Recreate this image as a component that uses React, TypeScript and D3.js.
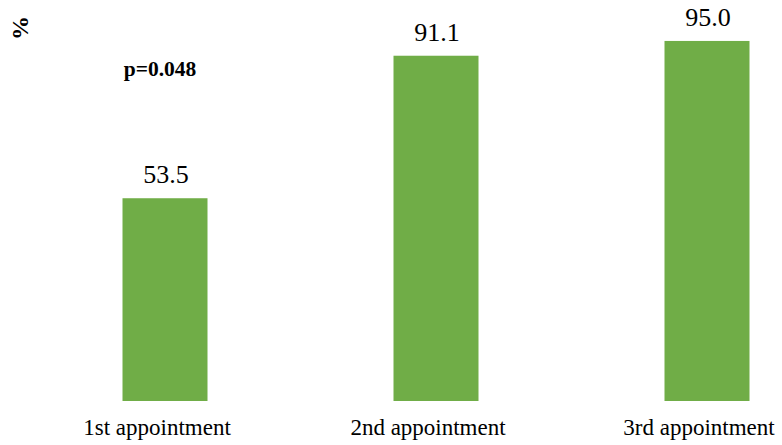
import React from "react";
import * as d3 from "d3";

const categories = ["1st appointment", "2nd appointment", "3rd appointment"];
const values = [53.5, 91.1, 95.0];
const pLabel = "p=0.048";
const yLabel = "%";

const W = 782;
const H = 445;
const FONT = "Liberation Serif, Times New Roman, serif";

export default function App() {
  const x = d3
    .scaleBand<string>()
    .domain(categories)
    .range([29.5, 842.5])
    .paddingInner(1 - 85 / 271)
    .paddingOuter((1 - 85 / 271) / 2);
  const y = d3.scaleLinear().domain([0, 100]).range([401, 22]);
  const bw = x.bandwidth();
  return (
    <svg width={W} height={H} style={{ position: "absolute", left: 0, top: 0, fontFamily: FONT }}>
      <rect width={W} height={H} fill="#fff" />
      {categories.map((c, i) => {
        const cx = (x(c) as number) + bw / 2;
        return (
          <g key={c}>
            <rect x={x(c)} y={y(values[i])} width={bw} height={y(0) - y(values[i])} fill="#70AD47" />
            <text x={cx + 1} y={y(values[i]) - 15} textAnchor="middle" fontSize={26} fill="#000" style={{ fontFamily: FONT }}>
              {values[i].toFixed(1)}
            </text>
            <text x={cx - 8} y={435} textAnchor="middle" fontSize={23} fill="#000" style={{ fontFamily: FONT }}>
              {c}
            </text>
          </g>
        );
      })}
      <text x={160} y={76} textAnchor="middle" fontSize={21.5} fontWeight="bold" fill="#000" style={{ fontFamily: FONT }}>
        {pLabel}
      </text>
      <text transform="translate(28,28) rotate(-90)" textAnchor="middle" fontSize={24} fontWeight="bold" fill="#000" style={{ fontFamily: FONT }}>
        {yLabel}
      </text>
    </svg>
  );
}
